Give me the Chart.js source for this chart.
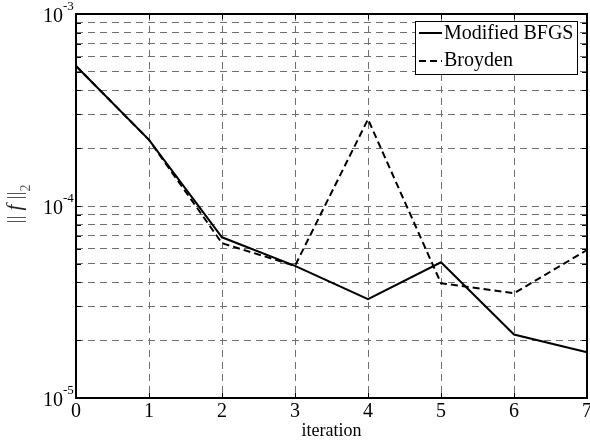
<!DOCTYPE html>
<html><head><meta charset="utf-8">
<script src="https://cdn.jsdelivr.net/npm/chart.js@4/dist/chart.umd.min.js"></script>
<style>html,body{margin:0;padding:0;background:#fff;}#wrap{width:590px;height:446px;}</style>
</head><body><div id="wrap"><canvas id="c" width="590" height="446"></canvas></div>
<script>
const iterations = ['0','1','2','3','4','5','6','7'];
const seriesNames = ['Modified BFGS','Broyden'];
const bfgsValues = [5.36e-4, 2.21e-4, 6.87e-5, 4.88e-5, 3.27e-5, 5.09e-5, 2.14e-5, 1.73e-5];
const broydenValues = [5.36e-4, 2.21e-4, 6.4e-5, 4.88e-5, 2.83e-4, 3.96e-5, 3.51e-5, 5.9e-5];
const yGridValues = [1e-5,2e-5,3e-5,4e-5,5e-5,6e-5,7e-5,8e-5,9e-5,1e-4,2e-4,3e-4,4e-4,5e-4,6e-4,7e-4,8e-4,9e-4,1e-3];
const yMajorTicks = [1e-5, 1e-4, 1e-3];
const yMajorExponents = ['-5', '-4', '-3'];
const xTitle = 'iteration';
const yTitleParts = ['|| ', 'f', ' ||', '2'];

const SERIF = '"Liberation Serif", "Times New Roman", serif';
const GRID = '#707070';
const DASH = [7, 4];

const decor = {
  id: 'decor',
  afterDraw(chart) {
    const ctx = chart.ctx, a = chart.chartArea;
    const xs = chart.scales.x, ys = chart.scales.y;
    ctx.save();
    // inward ticks
    ctx.strokeStyle = '#000'; ctx.lineWidth = 1; ctx.setLineDash([]);
    ctx.beginPath();
    iterations.forEach((l, i) => {
      const px = Math.round(xs.getPixelForValue(i)) + 0.5;
      ctx.moveTo(px, a.bottom); ctx.lineTo(px, a.bottom - 5);
      ctx.moveTo(px, a.top); ctx.lineTo(px, a.top + 5);
    });
    yGridValues.forEach(v => {
      const py = Math.round(ys.getPixelForValue(v)) + 0.5;
      ctx.moveTo(a.left, py); ctx.lineTo(a.left + 5, py);
      ctx.moveTo(a.right, py); ctx.lineTo(a.right - 5, py);
    });
    ctx.stroke();
    // frame
    ctx.lineWidth = 2;
    ctx.strokeRect(a.left, a.top, a.right - a.left, a.bottom - a.top);
    // y tick labels with superscripts
    ctx.fillStyle = '#000';
    yMajorTicks.forEach((v, i) => {
      const py = ys.getPixelForValue(v);
      ctx.font = '20px ' + SERIF;
      ctx.textAlign = 'right'; ctx.textBaseline = 'alphabetic';
      ctx.fillText('10', 63, py + 7.5);
      ctx.font = '13px ' + SERIF;
      ctx.textAlign = 'left';
      ctx.fillText(yMajorExponents[i], 63, py - 4);
    });
    // y axis title
    ctx.save();
    ctx.translate(21, (a.top + a.bottom) / 2 - 2);
    ctx.rotate(-Math.PI / 2);
    ctx.textAlign = 'left'; ctx.textBaseline = 'alphabetic';
    const fMain = '20px ' + SERIF, fIt = 'italic 21px ' + SERIF, fSub = '14px ' + SERIF;
    const fonts = [fMain, fIt, fMain, fSub];
    let total = 0;
    const widths = yTitleParts.map((t, k) => { ctx.font = fonts[k]; const w = ctx.measureText(t).width; total += w; return w; });
    let cx = -total / 2;
    yTitleParts.forEach((t, k) => {
      ctx.font = fonts[k];
      ctx.fillStyle = k === 1 ? '#222' : '#555';
      ctx.fillText(t, cx, k === 3 ? 9 : 0);
      cx += widths[k];
    });
    ctx.restore();
    // legend
    const lx = 415.5, ly = 21.5, lw = 162, lh = 53;
    ctx.fillStyle = '#fff'; ctx.fillRect(lx, ly, lw, lh);
    ctx.strokeStyle = '#000'; ctx.lineWidth = 1; ctx.strokeRect(lx, ly, lw, lh);
    const rows = [{y: 33, dash: [], base: 39}, {y: 61, dash: DASH, base: 66}];
    rows.forEach((r, k) => {
      ctx.lineWidth = 2; ctx.setLineDash(r.dash);
      ctx.beginPath(); ctx.moveTo(419, r.y); ctx.lineTo(442, r.y); ctx.stroke();
      ctx.setLineDash([]);
      ctx.fillStyle = '#000'; ctx.font = '20px ' + SERIF; ctx.textAlign = 'left';
      ctx.fillText(seriesNames[k], 444, r.base);
    });
    ctx.restore();
  }
};

new Chart(document.getElementById('c'), {
  type: 'line',
  data: {
    labels: iterations,
    datasets: [
      { label: seriesNames[0], data: bfgsValues, borderColor: '#000', borderWidth: 2, pointRadius: 0, fill: false, tension: 0 },
      { label: seriesNames[1], data: broydenValues, borderColor: '#000', borderWidth: 2, borderDash: DASH, pointRadius: 0, fill: false, tension: 0 }
    ]
  },
  options: {
    responsive: false, animation: false, devicePixelRatio: 1,
    layout: { padding: { left: 0, right: 3, top: 14, bottom: 0 } },
    plugins: { legend: { display: false }, tooltip: { enabled: false } },
    scales: {
      x: {
        type: 'category', offset: false,
        grid: { color: GRID, lineWidth: 1, drawTicks: false },
        border: { display: false, dash: [7, 5] },
        ticks: { color: '#000', font: { family: SERIF, size: 20 }, padding: 2, maxRotation: 0, autoSkip: false },
        title: { display: true, text: xTitle, color: '#000', font: { family: SERIF, size: 18 }, padding: { top: 0, bottom: 4 } },
        afterFit: s => { s.height = 48; s.paddingLeft = 0; s.paddingRight = 0; }
      },
      y: {
        type: 'logarithmic', min: 1e-5, max: 1e-3,
        afterBuildTicks: s => { s.ticks = yGridValues.map(v => ({ value: v })); },
        ticks: { callback: () => '', autoSkip: false },
        grid: { color: GRID, lineWidth: 1, drawTicks: false },
        border: { display: false, dash: [7, 5] },
        afterFit: s => { s.width = 76; s.paddingTop = 0; s.paddingBottom = 0; }
      }
    }
  },
  plugins: [decor]
});
</script>
</body></html>
